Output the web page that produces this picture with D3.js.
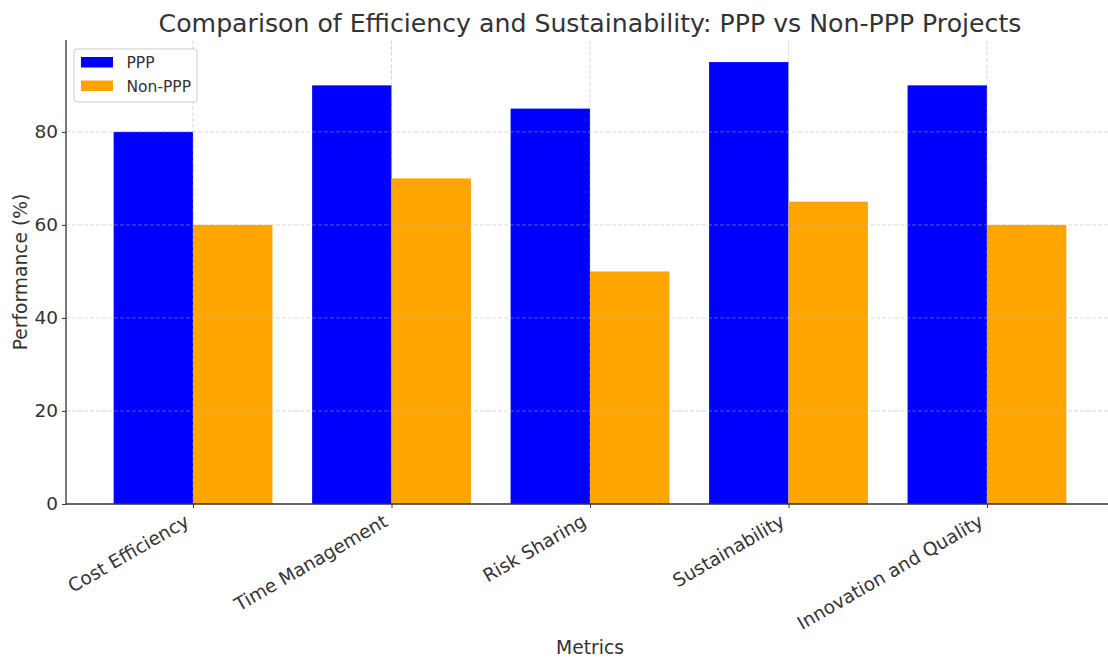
<!DOCTYPE html>
<html>
<head>
<meta charset="utf-8">
<script src="https://cdn.jsdelivr.net/npm/d3@7"></script>
<style>
  html, body { margin: 0; padding: 0; background: #fff; }
  svg { display: block; font-family: "DejaVu Sans", sans-serif; }
</style>
</head>
<body>
<svg id="chart" width="1108" height="659"></svg>
<script>
// Metrics compared and the scores of each project type
const categories = ["Cost Efficiency", "Time Management", "Risk Sharing", "Sustainability", "Innovation and Quality"];
const pppValues = [80, 90, 85, 95, 90];
const nonPppValues = [60, 70, 50, 65, 60];
const yTicks = [0, 20, 40, 60, 80];
const seriesNames = ["PPP", "Non-PPP"];
const seriesColors = ["#0000ff", "#ffa500"];

const svg = d3.select("#chart");
const plotLeft = 66, plotRight = 1114, plotTop = 40, plotBottom = 504;
const barW = 0.4;

// Continuous x scale over category index, padded like the default margins
const x = d3.scaleLinear().domain([-0.64, categories.length - 1 + 0.64]).range([plotLeft, plotRight]);
const yMax = d3.max(pppValues.concat(nonPppValues)) * 1.05;
const y = d3.scaleLinear().domain([0, yMax]).range([plotBottom, plotTop]);

const textColor = "#333333";
const tickFont = "18.5px";

// Bars
const series = [pppValues, nonPppValues];
series.forEach((vals, s) => {
  svg.append("g").selectAll("rect").data(vals).join("rect")
    .attr("x", (d, i) => x(i + (s === 0 ? -barW : 0)))
    .attr("width", (d, i) => x(barW) - x(0))
    .attr("y", d => y(d))
    .attr("height", d => y(0) - y(d))
    .attr("fill", seriesColors[s]);
});

// Grid lines on top of the bars
const grid = svg.append("g").attr("stroke", "#b0b0b0").attr("stroke-opacity", 0.6)
  .attr("stroke-dasharray", "4,2").attr("stroke-width", 0.8);
grid.selectAll("line.h").data(yTicks.filter(t => t > 0)).join("line")
  .attr("x1", plotLeft).attr("x2", plotRight).attr("y1", d => y(d)).attr("y2", d => y(d));
grid.selectAll("line.v").data(categories.map((c, i) => i)).join("line")
  .attr("y1", plotTop).attr("y2", plotBottom).attr("x1", d => x(d)).attr("x2", d => x(d));

// Y axis
const yAxis = svg.append("g").attr("transform", `translate(${plotLeft},0)`)
  .call(d3.axisLeft(y).tickValues(yTicks).tickSize(4).tickPadding(4));
yAxis.select(".domain").attr("stroke", textColor).attr("stroke-width", 1.3).attr("d", `M0,${plotBottom}V${plotTop}`);
yAxis.selectAll(".tick line").attr("stroke", textColor);
yAxis.selectAll(".tick text").attr("fill", textColor).style("font-size", tickFont).style("font-family", "DejaVu Sans");

// X axis
const xAxis = svg.append("g").attr("transform", `translate(0,${plotBottom})`)
  .call(d3.axisBottom(x).tickValues(categories.map((c, i) => i)).tickFormat(i => categories[i]).tickSize(4).tickPadding(6));
xAxis.select(".domain").attr("stroke", textColor).attr("stroke-width", 1.3).attr("d", `M${plotLeft},0H${plotRight}`);
xAxis.selectAll(".tick line").attr("stroke", textColor);
xAxis.selectAll(".tick text")
  .attr("fill", textColor).style("font-size", tickFont).style("font-family", "DejaVu Sans")
  .attr("text-anchor", "end")
  .attr("x", 0).attr("y", 0).attr("dy", 0)
  .attr("transform", "translate(-3,21) rotate(-30)");

// Axis titles and chart title
svg.append("text").attr("x", 590).attr("y", 654).attr("text-anchor", "middle")
  .attr("fill", textColor).style("font-size", "18.7px").text("Metrics");
svg.append("text").attr("transform", `translate(27,${(plotTop + plotBottom) / 2}) rotate(-90)`).attr("text-anchor", "middle")
  .attr("fill", textColor).style("font-size", "18.7px").text("Performance (%)");
svg.append("text").attr("x", 590).attr("y", 32).attr("text-anchor", "middle")
  .attr("fill", textColor).style("font-size", "25.2px").text("Comparison of Efficiency and Sustainability: PPP vs Non-PPP Projects");

// Legend
const lg = svg.append("g").attr("transform", "translate(74,49)");
lg.append("rect").attr("width", 123).attr("height", 53).attr("rx", 3)
  .attr("fill", "#fff").attr("fill-opacity", 0.8).attr("stroke", "#cccccc");
seriesNames.forEach((n, i) => {
  lg.append("rect").attr("x", 7).attr("y", 8 + i * 23.5).attr("width", 32).attr("height", 10.5).attr("fill", seriesColors[i]);
  lg.append("text").attr("x", 52.5).attr("y", 18.5 + i * 24).attr("fill", textColor).style("font-size", "15.5px").text(n);
});
</script>
</body>
</html>
